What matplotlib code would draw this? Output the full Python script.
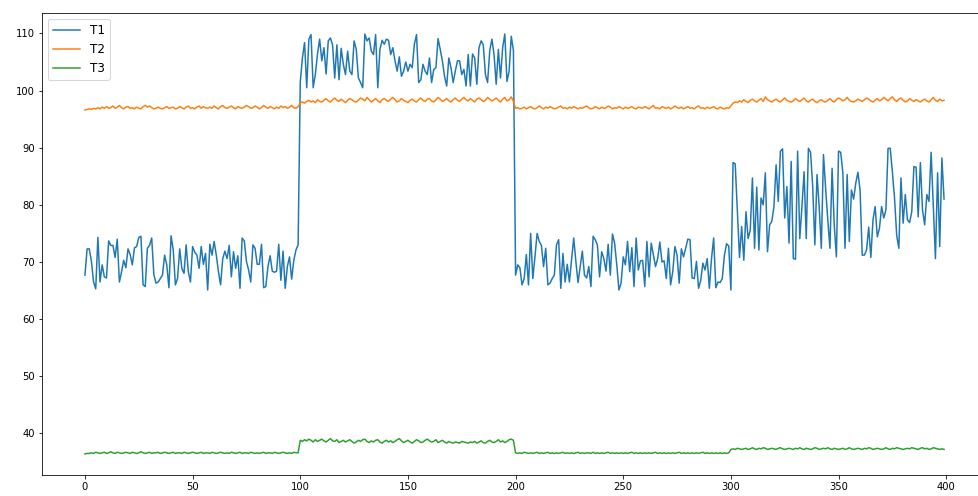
import matplotlib
matplotlib.use("Agg")
import matplotlib.pyplot as plt

# ========= data =========
T1 = [
    67.7, 72.3, 72.3, 70.1, 66.5, 65.3, 74.3, 66.5, 69.5, 67.4,
    67.2, 73.7, 72.9, 72.9, 70.8, 74.0, 66.5, 68.3, 70.3, 69.0,
    72.3, 71.3, 69.5, 72.5, 72.7, 74.3, 74.5, 66.0, 65.7, 72.4,
    72.9, 74.2, 67.8, 66.3, 66.5, 67.1, 67.7, 71.2, 69.5, 65.5,
    74.6, 72.1, 66.0, 67.1, 72.3, 68.9, 68.0, 73.0, 68.3, 66.5,
    72.7, 71.7, 71.2, 68.9, 72.7, 69.6, 71.5, 65.1, 73.1, 71.2,
    73.6, 71.2, 68.3, 66.0, 70.6, 71.9, 70.6, 72.9, 67.4, 71.8,
    68.9, 71.1, 65.4, 74.2, 73.7, 70.1, 68.6, 66.5, 73.0, 72.4,
    69.6, 69.6, 73.1, 65.5, 65.7, 69.2, 71.1, 68.4, 68.2, 68.4,
    73.1, 66.8, 71.9, 65.4, 69.2, 70.9, 67.0, 70.3, 72.1, 73.0,
    101.5, 105.7, 108.4, 100.5, 109.0, 109.8, 100.5, 102.8, 106.4, 109.0,
    105.2, 107.5, 102.9, 108.7, 109.2, 108.0, 102.2, 108.0, 101.9, 107.4,
    104.6, 102.8, 106.9, 103.4, 102.8, 108.7, 107.2, 102.2, 101.4, 100.5,
    109.9, 108.7, 109.2, 106.9, 106.3, 109.8, 100.5, 107.2, 108.8, 108.1,
    109.0, 108.8, 106.3, 107.5, 105.2, 103.4, 105.9, 102.5, 103.4, 105.0,
    103.4, 104.6, 104.0, 108.1, 109.8, 101.4, 101.9, 104.6, 103.4, 102.8,
    105.7, 101.4, 103.7, 104.0, 109.1, 107.2, 105.2, 102.5, 100.8, 105.7,
    104.0, 101.4, 103.4, 105.2, 105.2, 102.8, 103.7, 100.8, 106.3, 100.8,
    106.4, 105.7, 101.1, 107.5, 108.7, 108.0, 102.8, 101.4, 107.0, 109.0,
    106.3, 101.1, 107.2, 102.2, 107.5, 109.9, 101.6, 103.4, 109.5, 107.0,
    67.7, 69.5, 69.0, 66.0, 67.1, 71.3, 66.0, 75.0, 67.1, 70.9,
    75.0, 73.6, 72.9, 69.2, 72.4, 66.0, 66.3, 67.1, 67.7, 73.0,
    73.9, 65.4, 71.5, 66.5, 69.6, 66.5, 70.3, 74.2, 70.1, 66.4,
    69.2, 71.9, 67.7, 67.2, 69.2, 65.7, 74.5, 73.9, 73.0, 67.4,
    71.8, 70.6, 68.4, 73.1, 67.7, 74.9, 73.3, 69.5, 65.1, 66.3,
    70.9, 69.5, 73.6, 68.3, 72.5, 65.7, 74.2, 68.6, 70.2, 70.3,
    65.7, 73.6, 67.4, 73.3, 71.2, 69.2, 70.6, 73.5, 70.0, 70.2,
    67.1, 72.4, 66.0, 68.3, 72.7, 71.2, 66.3, 72.3, 70.9, 72.4,
    74.0, 73.9, 67.2, 67.1, 70.1, 65.4, 66.8, 69.8, 68.6, 70.6,
    65.4, 70.6, 74.2, 65.5, 66.5, 66.4, 67.1, 71.2, 73.2, 72.8,
    65.1, 87.4, 87.2, 79.1, 70.8, 76.2, 70.3, 78.8, 74.1, 75.6,
    84.7, 72.4, 83.1, 72.1, 81.2, 80.0, 85.6, 71.8, 76.5, 77.1,
    79.7, 87.0, 80.6, 89.4, 89.8, 77.7, 83.2, 73.3, 87.6, 70.6,
    70.5, 89.4, 74.1, 79.7, 85.8, 74.1, 89.9, 89.2, 83.2, 73.0,
    85.3, 79.7, 72.4, 88.8, 82.9, 77.4, 72.4, 86.4, 76.5, 70.9,
    89.4, 89.2, 85.6, 72.4, 85.3, 73.6, 82.6, 81.0, 83.8, 85.7,
    82.6, 71.2, 71.2, 72.1, 76.1, 70.8, 77.4, 79.7, 74.4, 75.9,
    79.7, 77.7, 79.1, 89.9, 89.9, 85.8, 81.2, 74.7, 72.4, 84.7,
    76.8, 81.8, 77.4, 76.9, 78.8, 86.7, 86.6, 77.9, 87.4, 79.1,
    76.5, 81.8, 80.6, 89.2, 79.7, 70.6, 85.6, 72.7, 88.2, 81.0,
]

T2 = [
    96.6, 96.7, 96.8, 96.7, 96.9, 96.8, 97.0, 96.8, 97.1, 96.9,
    97.2, 96.9, 97.0, 97.3, 96.9, 97.1, 97.4, 97.0, 96.8, 97.1,
    97.2, 96.9, 97.0, 96.8, 97.1, 96.9, 96.8, 97.2, 97.4, 97.1,
    97.3, 97.0, 96.8, 96.9, 97.1, 96.9, 96.8, 97.0, 97.2, 96.9,
    97.0, 97.1, 96.8, 96.9, 97.2, 97.0, 96.8, 97.1, 97.3, 96.9,
    97.0, 96.8, 97.1, 97.3, 96.9, 97.2, 97.0, 96.9, 97.1, 96.9,
    97.3, 97.0, 96.8, 97.2, 97.4, 97.0, 96.9, 97.1, 97.3, 97.0,
    96.8, 97.2, 97.0, 96.9, 97.1, 97.4, 97.2, 96.9, 97.0, 97.3,
    97.1, 96.8, 97.0, 97.4, 97.1, 96.9, 97.2, 97.0, 96.8, 97.1,
    96.9, 97.3, 97.0, 97.2, 96.9, 97.1, 97.4, 97.0, 96.9, 97.2,
    97.9, 98.0, 97.8, 98.1, 98.3, 98.0, 98.2, 97.9, 98.4, 98.1,
    98.0, 98.3, 98.6, 98.2, 98.0, 98.4, 98.7, 98.3, 98.1, 98.5,
    98.2, 97.9, 98.3, 98.6, 98.4, 98.1, 98.0, 98.3, 98.7, 98.5,
    98.2, 98.8, 98.4, 98.0, 98.3, 98.6, 98.2, 97.9, 98.4, 98.6,
    98.3, 98.1, 98.5, 98.8, 98.4, 98.0, 98.2, 98.6, 98.3, 98.1,
    97.9, 98.3, 98.5, 98.2, 98.0, 98.4, 98.7, 98.3, 98.1, 98.5,
    98.6, 98.2, 98.0, 98.4, 98.8, 98.5, 98.1, 98.3, 98.6, 98.2,
    98.0, 98.4, 98.7, 98.3, 98.1, 98.5, 98.8, 98.4, 98.2, 98.6,
    98.3, 98.0, 98.5, 98.7, 98.4, 98.1, 98.3, 98.8, 98.5, 98.2,
    98.4, 98.7, 98.3, 98.0, 98.5, 98.8, 98.2, 98.4, 98.9, 98.1,
    96.9, 97.0, 96.8, 96.9, 97.1, 96.8, 97.0, 97.2, 96.9, 96.8,
    97.0, 97.3, 97.0, 96.8, 97.1, 96.9, 97.2, 97.0, 96.8, 96.9,
    97.1, 97.3, 96.9, 97.0, 96.8, 97.1, 96.9, 97.2, 97.0, 96.8,
    97.0, 96.9, 97.1, 97.3, 97.0, 96.8, 96.9, 97.2, 97.0, 96.8,
    97.1, 96.9, 97.0, 97.3, 97.1, 96.8, 97.0, 96.9, 97.2, 97.0,
    96.8, 97.1, 96.9, 97.0, 97.2, 96.9, 96.8, 97.1, 97.0, 96.9,
    97.2, 97.0, 96.8, 97.1, 97.4, 96.9, 97.0, 96.8, 97.2, 97.0,
    96.9, 97.1, 96.8, 97.0, 97.3, 97.0, 96.9, 97.1, 96.8, 97.0,
    97.2, 96.9, 97.0, 96.8, 97.1, 97.3, 96.9, 97.0, 96.8, 97.1,
    96.9, 97.0, 97.2, 96.9, 96.8, 97.1, 96.9, 96.8, 97.0, 96.9,
    97.3, 97.8, 98.0, 97.9, 98.2, 98.0, 98.4, 98.1, 97.9, 98.3,
    98.5, 98.2, 98.0, 98.3, 98.6, 98.1, 98.9, 98.4, 98.2, 98.0,
    98.3, 98.5, 98.2, 98.0, 98.4, 98.7, 98.3, 98.1, 98.0, 98.2,
    98.6, 98.3, 98.1, 98.4, 98.7, 98.2, 98.0, 98.3, 98.5, 98.1,
    97.9, 98.2, 98.4, 98.1, 98.0, 98.3, 98.6, 98.2, 98.0, 98.4,
    98.7, 98.5, 98.2, 98.4, 98.8, 98.3, 98.1, 98.0, 98.2, 98.5,
    98.3, 98.1, 98.4, 98.7, 98.5, 98.2, 98.0, 98.3, 98.6, 98.2,
    98.4, 98.8, 98.5, 98.2, 98.6, 98.9, 98.4, 98.1, 98.5, 98.7,
    98.3, 98.0, 98.2, 98.6, 98.3, 98.1, 98.4, 98.2, 98.0, 98.3,
    98.5, 98.2, 98.0, 98.4, 98.8, 98.3, 98.1, 98.5, 98.2, 98.3,
]

T3 = [
    36.4, 36.5, 36.5, 36.6, 36.5, 36.7, 36.6, 36.5, 36.6, 36.7,
    36.5, 36.6, 36.8, 36.6, 36.5, 36.7, 36.6, 36.5, 36.6, 36.7,
    36.6, 36.5, 36.7, 36.6, 36.5, 36.6, 36.8, 36.6, 36.5, 36.6,
    36.7, 36.5, 36.6, 36.6, 36.7, 36.5, 36.6, 36.7, 36.6, 36.5,
    36.6, 36.7, 36.5, 36.6, 36.6, 36.5, 36.7, 36.6, 36.5, 36.6,
    36.7, 36.6, 36.5, 36.6, 36.7, 36.5, 36.6, 36.6, 36.5, 36.7,
    36.6, 36.5, 36.6, 36.7, 36.6, 36.5, 36.6, 36.5, 36.7, 36.6,
    36.5, 36.6, 36.7, 36.5, 36.6, 36.6, 36.5, 36.7, 36.6, 36.5,
    36.6, 36.5, 36.6, 36.7, 36.5, 36.6, 36.6, 36.5, 36.7, 36.6,
    36.5, 36.6, 36.7, 36.6, 36.5, 36.6, 36.5, 36.7, 36.6, 36.6,
    38.8, 38.6, 38.9, 38.7, 39.0, 38.8, 38.5, 38.9, 38.6, 38.8,
    39.0, 38.7, 38.5, 38.8, 39.1, 38.7, 38.6, 38.9, 38.4, 38.6,
    38.8, 38.5, 38.7, 38.9, 38.6, 38.3, 38.5, 38.8, 38.6, 38.9,
    39.0, 38.6, 38.4, 38.7, 38.5, 38.8, 38.9, 38.5, 38.3, 38.6,
    38.8, 38.5, 38.7, 38.4, 38.6, 38.9, 39.1, 38.7, 38.4, 38.6,
    38.8, 38.5, 38.3, 38.6, 38.9, 38.7, 38.4, 38.5, 38.8, 39.0,
    38.7, 38.5, 38.6, 38.9, 38.4, 38.6, 38.8, 38.5, 38.3, 38.6,
    38.4, 38.3, 38.5, 38.4, 38.3, 38.6, 38.5, 38.4, 38.3, 38.5,
    38.4, 38.6, 38.3, 38.5, 38.7, 38.4, 38.3, 38.6, 38.8, 38.5,
    38.4, 38.6, 38.9, 38.5, 38.7, 38.4, 38.6, 38.9, 39.0, 38.8,
    36.6, 36.5, 36.6, 36.5, 36.7, 36.6, 36.5, 36.6, 36.5, 36.6,
    36.7, 36.5, 36.6, 36.5, 36.6, 36.7, 36.5, 36.6, 36.5, 36.6,
    36.5, 36.6, 36.7, 36.5, 36.6, 36.5, 36.6, 36.5, 36.6, 36.7,
    36.5, 36.6, 36.5, 36.6, 36.6, 36.5, 36.7, 36.5, 36.6, 36.5,
    36.6, 36.5, 36.6, 36.7, 36.5, 36.6, 36.5, 36.6, 36.5, 36.6,
    36.5, 36.6, 36.5, 36.6, 36.7, 36.5, 36.6, 36.5, 36.6, 36.5,
    36.6, 36.5, 36.6, 36.5, 36.6, 36.7, 36.5, 36.6, 36.5, 36.6,
    36.5, 36.6, 36.5, 36.6, 36.5, 36.6, 36.7, 36.5, 36.6, 36.5,
    36.6, 36.5, 36.6, 36.5, 36.6, 36.5, 36.6, 36.7, 36.5, 36.6,
    36.5, 36.6, 36.5, 36.6, 36.5, 36.6, 36.5, 36.6, 36.5, 36.6,
    37.2, 37.3, 37.2, 37.4, 37.3, 37.2, 37.3, 37.4, 37.2, 37.3,
    37.5, 37.3, 37.2, 37.4, 37.3, 37.5, 37.4, 37.2, 37.3, 37.4,
    37.3, 37.2, 37.4, 37.5, 37.3, 37.2, 37.3, 37.4, 37.3, 37.2,
    37.4, 37.3, 37.5, 37.3, 37.2, 37.4, 37.3, 37.2, 37.3, 37.5,
    37.4, 37.2, 37.3, 37.4, 37.3, 37.5, 37.3, 37.2, 37.4, 37.3,
    37.2, 37.3, 37.4, 37.2, 37.3, 37.5, 37.3, 37.2, 37.3, 37.4,
    37.3, 37.2, 37.4, 37.3, 37.5, 37.4, 37.2, 37.3, 37.4, 37.3,
    37.2, 37.3, 37.5, 37.3, 37.2, 37.4, 37.3, 37.5, 37.4, 37.3,
    37.2, 37.3, 37.4, 37.3, 37.5, 37.4, 37.3, 37.2, 37.4, 37.5,
    37.3, 37.4, 37.2, 37.3, 37.5, 37.4, 37.3, 37.2, 37.3, 37.2,
]

LABELS = ["T1", "T2", "T3"]

# ========= plot =========
W, H = 978, 496
fig = plt.figure(figsize=(W / 72, H / 72), dpi=72)
# axes runs a little past the right edge, like the cropped notebook output
ax = fig.add_axes([42 / W, 21 / H, 945 / W, 462 / H])

for series, label in zip([T1, T2, T3], LABELS):
    ax.plot(range(len(series)), series, label=label)

ax.legend(loc="upper left", fontsize=12, handlelength=2.3, labelspacing=0.5)

fig.savefig("out.png", dpi=72)
